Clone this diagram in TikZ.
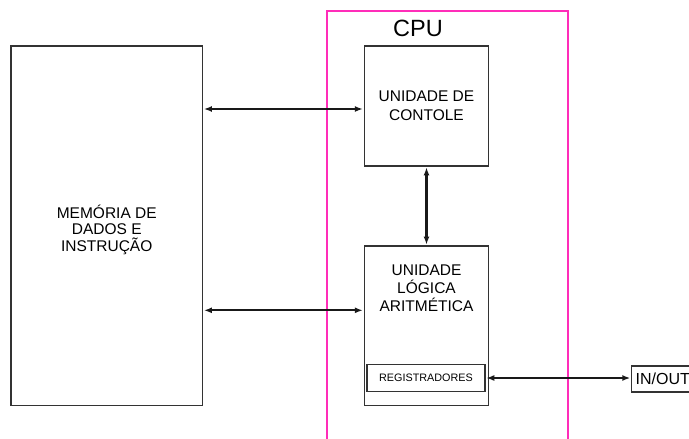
\documentclass[tikz,border=0pt]{standalone}
\usepackage{fontspec}
\setmainfont{Liberation Sans}
\usetikzlibrary{arrows.meta,calc}
\definecolor{cpupink}{RGB}{255,45,185}
\tikzset{
  blk/.style={draw=black!80, line width=1.4pt, fill=none, inner sep=0pt, align=center, font=\fontsize{15.5}{19}\selectfont},
  unit/.style={blk, minimum width=124.5pt},
  small/.style={draw=black!80, line width=1.2pt, inner sep=0pt, font=\fontsize{10.8}{12}\selectfont},
  link/.style={{Latex[length=8pt,width=6pt]}-{Latex[length=8pt,width=6pt]}, line width=2.2pt, black!90, shorten <=0.7pt, shorten >=0.7pt}
}

\begin{document}
\begin{tikzpicture}[x=1pt, y=-1pt]
  \useasboundingbox (0,0) rectangle (689,439);
  % memory
  \node[blk, minimum width=191.5pt, minimum height=359.5pt] (mem) at (106.75,225.75) {};
  \node[font=\fontsize{15.5}{16.8}\selectfont, align=center] (memtxt) at ($(mem.center)+(0,4)$) {MEMÓRIA DE\\DADOS E\\INSTRUÇÃO};
  % cpu frame
  \draw[cpupink, line width=1.4pt] (327,445) -- (327,11) -- (568,11) -- (568,445);
  \node[font=\fontsize{23.5}{26}\selectfont] (cpu) at (418,28) {CPU};
  % units
  \node[unit, minimum height=120pt] (ctrl) at (426.5,106) {UNIDADE DE\\CONTOLE};
  \node[unit, minimum height=159.5pt] (alu) at (426.5,325.75) {};
  \node[font=\fontsize{15.5}{18}\selectfont, align=center, anchor=north] (alutxt) at ($(alu.north)+(0,16)$) {UNIDADE\\LÓGICA\\ARITMÉTICA};
  \node[small, minimum width=118pt, minimum height=27.5pt] (reg) at (426,378) {REGISTRADORES};
  \node[blk, anchor=west, minimum width=100pt, minimum height=26pt, inner xsep=4pt, text width=92pt, align=left, font=\fontsize{16}{18}\selectfont] (io) at (631,379) {IN/OUT};
  % connections
  \coordinate (lvl) at (0,310.3);
  \draw[link] ([yshift=-3pt]mem.east |- ctrl.west) -- ([yshift=-3pt]ctrl.west);
  \draw[link] (mem.east |- lvl) -- (alu.west |- lvl);
  \draw[link] (ctrl.south) -- (alu.north);
  \draw[link] (reg.east) -- (io.west |- reg.east);
\end{tikzpicture}
\end{document}
